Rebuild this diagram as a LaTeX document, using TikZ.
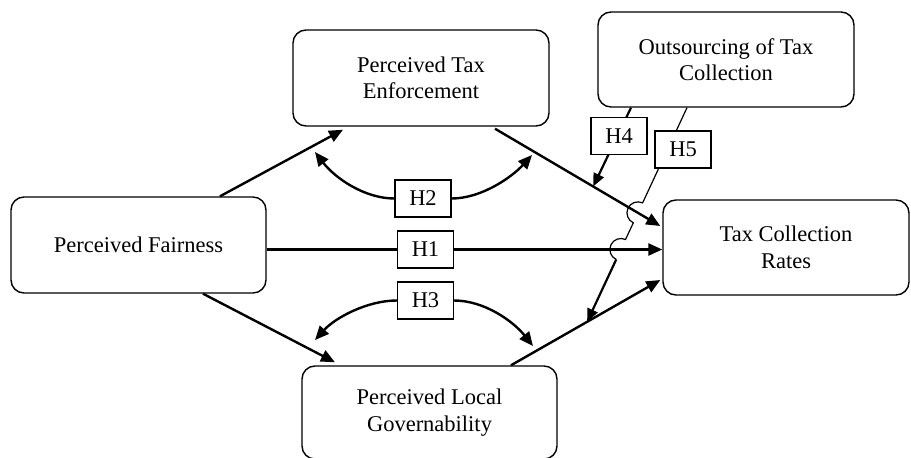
\documentclass[tikz,border=0pt]{standalone}
\usepackage{fontspec}
\setmainfont{Liberation Serif}
\usetikzlibrary{arrows.meta,calc,intersections}
\begin{document}
\begin{tikzpicture}[x=1pt,y=-1pt,
  box/.style={draw, line width=1.4pt, rounded corners=13pt, align=center,
    font=\fontsize{22.5}{26.5}\selectfont, inner sep=0pt},
  hbox/.style={draw, line width=1.2pt, fill=white, inner sep=0pt,
    minimum width=56pt, minimum height=37pt, font=\fontsize{22.5}{26.5}\selectfont},
  thk/.style={line width=2.4pt},
  arr/.style={line width=2.4pt, -{Triangle[length=14pt,width=12pt]}},
  thinline/.style={line width=1.2pt}
]
\useasboundingbox (0,0) rectangle (911,458);

% main boxes
\node[box, minimum width=255pt, minimum height=96pt] (fair) at (138.5,245) {Perceived Fairness};
\node[box, minimum width=256pt, minimum height=96pt] (enf) at (421,78) {Perceived Tax\\Enforcement};
\node[box, minimum width=256pt, minimum height=95pt] (out) at (726,59.5) {Outsourcing of Tax\\Collection};
\node[box, minimum width=246pt, minimum height=95pt] (rates) at (786,247.5) {Tax Collection\\Rates};
\node[box, minimum width=255pt, minimum height=93pt] (gov) at (429.5,412.5) {Perceived Local\\Governability};

% hypothesis labels on own lines
\node[hbox] (h1) at (425.5,249.5) {H1};
\node[hbox] (h2) at (423,198.5) {H2};
\node[hbox] (h3) at (425.5,300.5) {H3};

% free ends of the curved arrows
\coordinate (t2l) at (315,152);
\coordinate (t2r) at (532,155);
\coordinate (t3l) at (315,340);
\coordinate (t3r) at (533,346);

% direct paths
\draw[arr] ($(fair.north)+(81.5,0)$) -- ($(enf.south)+(-78,3)$);
\draw[arr, name path=enfline] ($(enf.south)+(74,2)$) -- coordinate[pos=0.594] (h4tip) ($(rates.west)+(-2,-21.5)$);
\draw[thk] (fair.east |- h1.west) -- (h1.west);
\draw[arr, name path=h1line] (h1.east) -- (rates.west |- h1.east);
\draw[arr] ($(fair.south)+(64.5,0)$) -- ($(gov.north)+(-94.5,-3)$);
\draw[arr] ($(gov.north)+(81.5,0)$) -- coordinate[pos=0.51] (h5tip) ($(rates.west)+(-2,32.5)$);

% curved arrows
\draw[arr] (h2.west) .. controls +(-30,0) and +(20,26) .. (t2l);
\draw[arr] (h2.east) .. controls +(30,0) and +(-20,22) .. (t2r);
\draw[arr] (h3.west) .. controls +(-30,0) and +(20,-22) .. (t3l);
\draw[arr] (h3.east) .. controls +(30,0) and +(-20,-25) .. (t3r);

% H4 moderation
\draw[line width=2.2pt, -{Triangle[length=13pt,width=11pt]}] ($(out.south)+(-95,0)$) -- (h4tip);
\node[hbox] (h4) at (619,136) {H4};

% H5 moderation with line hops
\coordinate (h5a) at ($(out.south)+(-39,0)$);
\path[name path=h5line] (h5a) -- (h5tip);
\path[name intersections={of=h5line and enfline, by=xa}];
\path[name intersections={of=h5line and h1line, by=xb}];
\draw[thinline] (h5a) -- ($(xa)!11pt!(h5a)$)
  arc[start angle=65, end angle=245, radius=11pt]
  -- ($(xb)!11pt!(h5a)$)
  arc[start angle=65, end angle=245, radius=11pt];
\draw[line width=2.2pt, -{Triangle[length=13pt,width=11pt]}] ($(xb)!11pt!(h5tip)$) -- (h5tip);
\node[hbox] (h5) at (683,149.5) {H5};
\end{tikzpicture}
\end{document}
